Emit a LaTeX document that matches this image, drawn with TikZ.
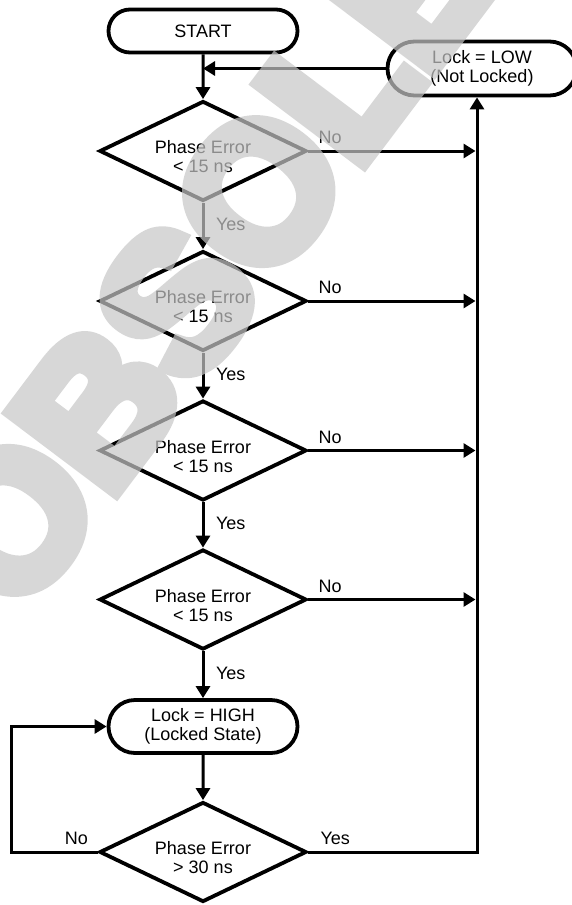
\documentclass[tikz,border=0pt]{standalone}
\usepackage{fontspec}
\setmainfont{Liberation Sans}
\newfontfamily\wmfont[FakeBold=8]{Liberation Sans Bold}
\usetikzlibrary{arrows.meta,shapes.geometric,shapes.misc,calc}
\tikzset{
  shp/.style={draw=black, line width=3.8pt, fill=white},
  txt/.style={font=\fontsize{18}{19}\selectfont, align=center},
  dia/.style={shp, txt, diamond, minimum width=207pt, minimum height=100pt,
              inner sep=0pt, aspect=2, line join=miter},
  pill/.style={shp, txt, rounded rectangle, minimum width=189pt, inner sep=0pt},
  con/.style={line width=3pt, -{Triangle[length=12pt,width=14pt]}},
  lbl/.style={font=\fontsize{18}{19}\selectfont, inner sep=0pt},
  wmark/.style={rotate=53, anchor=base west, inner sep=0pt, text=black!22,
                font=\fontsize{190}{190}\wmfont}
}
\begin{document}
\begin{tikzpicture}[x=1pt,y=-1pt]
\useasboundingbox (0,0) rectangle (572,905);
\fill[white] (0,0) rectangle (572,905);
\clip (0,0) rectangle (572,905);

% nodes
\node[pill, minimum height=43pt] (start) at (203,31) {\raisebox{-2pt}{START}};
\node[pill, minimum height=54pt] (low) at (482,68.5) {Lock = LOW\\(Not Locked)};
\node[dia] (d1) at (203,151) {\rule{0pt}{25pt}Phase Error\\< 15 ns};
\node[dia] (d2) at (203,301) {\rule{0pt}{25pt}Phase Error\\< 15 ns};
\node[dia] (d3) at (203,450.5) {\rule{0pt}{25pt}Phase Error\\< 15 ns};
\node[dia] (d4) at (203,599.5) {\rule{0pt}{25pt}Phase Error\\< 15 ns};
\node[pill, minimum height=53pt] (high) at (203,726.5) {Lock = HIGH\\(Locked State)};
\node[dia] (d5) at (203,852) {\rule{0pt}{25pt}Phase Error\\> 30 ns};

\coordinate (j) at (203,68.5);
\coordinate (rl) at (477,852);
\coordinate (ll) at (11.5,852);

% main flow
\draw[con] (start) -- (d1);
\draw[con] (low.west) -- (j);
\draw[con] (d1) -- node[lbl, anchor=base west, xshift=11.5pt, yshift=-4.5pt] (y1) {Yes} (d2);
\draw[con] (d2) -- node[lbl, anchor=base west, xshift=11.5pt, yshift=-4.5pt] (y2) {Yes} (d3);
\draw[con] (d3) -- node[lbl, anchor=base west, xshift=11.5pt, yshift=-4.5pt] (y3) {Yes} (d4);
\draw[con] (d4) -- node[lbl, anchor=base west, xshift=11.5pt, yshift=-4.5pt] (y4) {Yes} (high);
\draw[con] (high) -- (d5);

% No branches
\foreach \d in {d1,d2,d3,d4}{
  \draw[con] (\d.east) -- ([xshift=-1.5pt]\d.east -| rl);
  \node[lbl, anchor=base west] (no\d) at ($(\d.east)+(10,-7.5)$) {No};
}

% return to not locked
\draw[con] (d5.east) -- (rl) -- (rl |- low.south);
\node[lbl, anchor=base west] (y5) at ($(d5.east)+(12,-7.5)$) {Yes};

% loop back to locked state
\draw[con] (d5.west) -- (ll) -- (ll |- high.west) -- (high.west);
\node[lbl, anchor=base east] (n5) at ($(d5.west)+(-9.5,-7.5)$) {No};

% watermark
\begin{scope}[transparency group, opacity=0.7]
\node[wmark] (wm) at (19,619) {OBSOLETE};
\end{scope}
\end{tikzpicture}
\end{document}
